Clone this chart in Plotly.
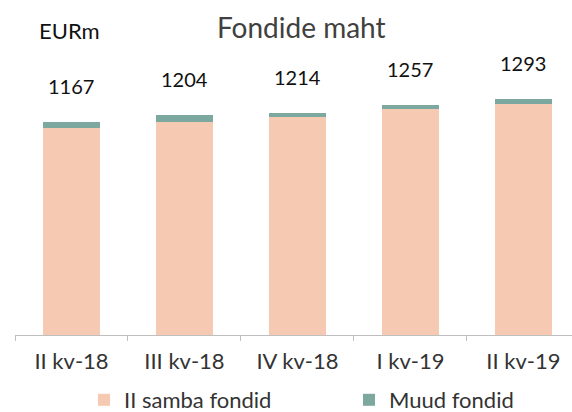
import plotly.graph_objects as go

categories = ["II kv-18", "III kv-18", "IV kv-18", "I kv-19", "II kv-19"]
samba = [1133, 1166, 1195, 1235, 1267]
muud = [34, 38, 19, 22, 26]
totals = [1167, 1204, 1214, 1257, 1293]

FONT = "Lato"
W, H = 572, 412
ML, MR, MT, MB = 15, 0, 40, 77
PW, PH = W - ML - MR, H - MT - MB


def px(x):
    return (x - ML) / PW


def py(y):
    return (H - MB - y) / PH


fig = go.Figure()
fig.add_trace(go.Bar(x=categories, y=samba, name="II samba fondid",
                     marker=dict(color="#F5C9B2", line=dict(width=0))))
fig.add_trace(go.Bar(x=categories, y=muud, name="Muud fondid",
                     marker=dict(color="#7DA89F", line=dict(width=0))))

for c, t in zip(categories, totals):
    fig.add_annotation(x=c, y=t, text=str(t), showarrow=False, yanchor="bottom",
                       yshift=22, font=dict(family=FONT, size=20, color="#111111"))

fig.add_annotation(xref="paper", yref="paper", x=px(301), y=py(27), text="Fondide maht",
                   showarrow=False, xanchor="center", yanchor="middle",
                   font=dict(family=FONT, size=28, color="#404040"))
fig.add_annotation(xref="paper", yref="paper", x=px(37), y=py(30), text="EURm",
                   showarrow=False, xanchor="left", yanchor="middle",
                   font=dict(family=FONT, size=22, color="#111111"))

fig.update_layout(
    width=W, height=H, barmode="stack", bargap=0.5,
    margin=dict(l=ML, r=MR, t=MT, b=MB),
    plot_bgcolor="white", paper_bgcolor="white",
    font=dict(family=FONT, size=17, color="#333333"),
    showlegend=True,
    legend=dict(orientation="h", xref="container", yref="container",
                x=84/572, xanchor="left", y=1 - 379/412, yanchor="top",
                entrywidth=220, font=dict(size=22, color="#333333"),
                traceorder="normal"),
    xaxis=dict(range=[-0.5, 4.43], showline=True, linecolor="#BFBFBF", linewidth=1,
               ticks="outside", tickson="boundaries", ticklen=5, tickcolor="#BFBFBF",
               ticklabelstandoff=7,
               showgrid=False, tickfont=dict(size=22, color="#333333")),
    yaxis=dict(range=[0, 1615], visible=False, showgrid=False, zeroline=False),
)

fig.write_html("out.html", config={"displayModeBar": False},
               post_script="document.body.style.margin='0';")
